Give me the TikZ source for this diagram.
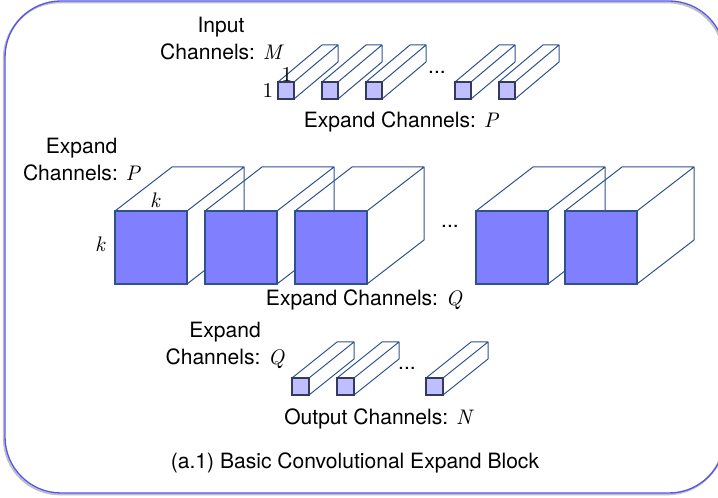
\documentclass[tikz,border=0pt]{standalone}
\usepackage{fontspec}
\setmainfont{TeX Gyre Heros}
\newfontfamily\lmfont[Extension=.otf, ItalicFont=lmroman10-italic]{lmroman10-regular}
\newcommand{\mvar}[1]{{\lmfont\itshape #1}}

\definecolor{framblue}{RGB}{84,84,240}
\definecolor{edgeblue}{RGB}{47,82,143}
\definecolor{facedark}{RGB}{128,128,255}
\definecolor{facelight}{RGB}{191,191,255}
\definecolor{faceline}{RGB}{52,58,92}

\tikzset{every picture/.style={line width=0.75pt}}
\tikzset{
  edge/.style={draw=edgeblue, line width=0.75pt, line join=round},
  bigface/.style={draw=edgeblue, fill=facedark, line width=0.9pt},
  smallface/.style={draw=faceline, fill=facelight, line width=0.9pt},
  lbl/.style={font=\fontsize{15.8}{18}\selectfont, inner sep=0pt},
}

\begin{document}
\begin{tikzpicture}[x=0.75pt,y=0.75pt,yscale=-1,xscale=1]
	\useasboundingbox (0,0) rectangle (718,498);

	%Shape: Rounded Rect [id:frame]
	\draw [draw=black!25, line width=1.4pt, rounded corners=42pt]  (3.8,2.4) rectangle (723.8,494.4) ;
	\draw [draw=framblue, line width=1pt, rounded corners=42pt]  (5,1) rectangle (725,493) ;

	%Shape: Bar [id:in1]
	\draw [edge]  (278,82) -- (322,45) -- (338,45) -- (338,62) -- (294,99) (294,82) -- (338,45) ;
	\draw [smallface]  (278,82) rectangle (294,99) ;
	%Shape: Bar [id:in2]
	\draw [edge]  (322,82) -- (366,45) -- (382,45) -- (382,62) -- (338,99) (338,82) -- (382,45) ;
	\draw [smallface]  (322,82) rectangle (338,99) ;
	%Shape: Bar [id:in3]
	\draw [edge]  (366,82) -- (410,45) -- (426,45) -- (426,62) -- (382,99) (382,82) -- (426,45) ;
	\draw [smallface]  (366,82) rectangle (382,99) ;
	%Shape: Bar [id:in4]
	\draw [edge]  (455,82) -- (499,45) -- (515,45) -- (515,62) -- (471,99) (471,82) -- (515,45) ;
	\draw [smallface]  (455,82) rectangle (471,99) ;
	%Shape: Bar [id:in5]
	\draw [edge]  (499,82) -- (543,45) -- (559,45) -- (559,62) -- (515,99) (515,82) -- (559,45) ;
	\draw [smallface]  (499,82) rectangle (515,99) ;

	%Shape: Cube [id:mid1]
	\draw [edge]  (115,211) -- (172,167) -- (244,167) -- (244,240) -- (187,284) (187,211) -- (244,167) ;
	\draw [bigface]  (115,211) rectangle (187,284) ;
	%Shape: Cube [id:mid2]
	\draw [edge]  (205,211) -- (262,167) -- (334,167) -- (334,240) -- (277,284) (277,211) -- (334,167) ;
	\draw [bigface]  (205,211) rectangle (277,284) ;
	%Shape: Cube [id:mid3]
	\draw [edge]  (295,211) -- (352,167) -- (424,167) -- (424,240) -- (367,284) (367,211) -- (424,167) ;
	\draw [bigface]  (295,211) rectangle (367,284) ;
	%Shape: Cube [id:mid4]
	\draw [edge]  (476,211) -- (533,167) -- (605,167) -- (605,240) -- (548,284) (548,211) -- (605,167) ;
	\draw [bigface]  (476,211) rectangle (548,284) ;
	%Shape: Cube [id:mid5]
	\draw [edge]  (565,211) -- (622,167) -- (694,167) -- (694,240) -- (637,284) (637,211) -- (694,167) ;
	\draw [bigface]  (565,211) rectangle (637,284) ;

	%Shape: Bar [id:out1]
	\draw [edge]  (292,378) -- (337,342) -- (354,342) -- (354,359) -- (309,395) (309,378) -- (354,342) ;
	\draw [smallface]  (292,378) rectangle (309,395) ;
	%Shape: Bar [id:out2]
	\draw [edge]  (337,378) -- (382,342) -- (399,342) -- (399,359) -- (354,395) (354,378) -- (399,342) ;
	\draw [smallface]  (337,378) rectangle (354,395) ;
	%Shape: Bar [id:out3]
	\draw [edge]  (426,378) -- (471,342) -- (488,342) -- (488,359) -- (443,395) (443,378) -- (488,342) ;
	\draw [smallface]  (426,378) rectangle (443,395) ;

	% Text Node
	\draw (221,33) node [lbl, anchor=base] (inname) {Input};
	% Text Node
	\draw (221,60) node [lbl, anchor=base] (inchan) {Channels: \mvar{M}};
	% Text Node
	\draw (268,90) node [lbl] (onew) {{\lmfont 1}};
	% Text Node
	\draw (287,74) node [lbl] (oneh) {{\lmfont 1}};
	% Text Node
	\draw (437,72) node [lbl] (dotsin) {...};
	% Text Node
	\draw (401,128) node [lbl, anchor=base] (pchan) {Expand Channels: \mvar{P}};
	% Text Node
	\draw (81.5,154) node [lbl, anchor=base] (pname) {Expand};
	% Text Node
	\draw (81.5,181) node [lbl, anchor=base] (pchanl) {Channels: \mvar{P}};
	% Text Node
	\draw (155,200) node [lbl] (kw) {\mvar{k}};
	% Text Node
	\draw (100,244) node [lbl] (kh) {\mvar{k}};
	% Text Node
	\draw (450,226) node [lbl] (dotsmid) {...};
	% Text Node
	\draw (364,306) node [lbl, anchor=base] (qchan) {Expand Channels: \mvar{Q}};
	% Text Node
	\draw (225,338) node [lbl, anchor=base] (qname) {Expand};
	% Text Node
	\draw (225,365) node [lbl, anchor=base] (qchanl) {Channels: \mvar{Q}};
	% Text Node
	\draw (407,368) node [lbl] (dotsout) {...};
	% Text Node
	\draw (378,425) node [lbl, anchor=base] (nchan) {Output Channels: \mvar{N}};
	% Text Node
	\draw (355,469) node [lbl, anchor=base] (caption) {(a.1) Basic Convolutional Expand Block};

\end{tikzpicture}
\end{document}
